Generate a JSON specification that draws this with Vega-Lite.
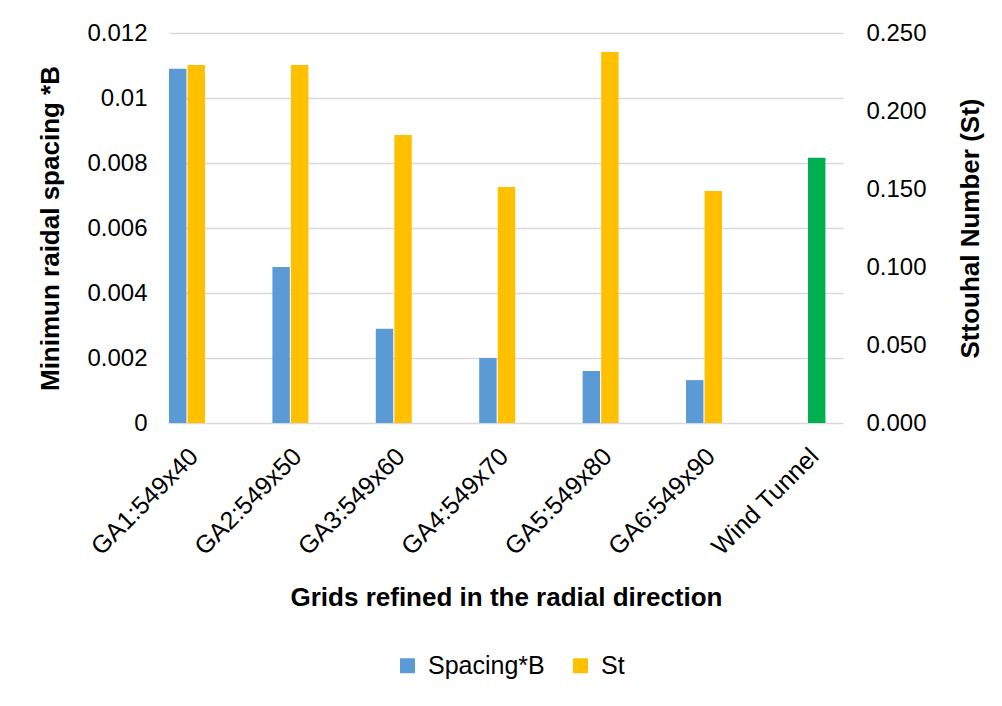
{
  "$schema": "https://vega.github.io/schema/vega-lite/v6.json",
  "width": 674,
  "height": 390,
  "autosize": {"type": "none"},
  "padding": {"left": 169, "top": 33, "right": 159, "bottom": 283},
  "background": "white",
  "config": {
    "view": {"stroke": null},
    "font": "Liberation Sans",
    "axis": {"labelFont": "Liberation Sans", "titleFont": "Liberation Sans", "labelColor": "#000000", "titleColor": "#000000"},
    "legend": {"labelFont": "Liberation Sans", "labelColor": "#000000"}
  },
  "data": {
    "values": [
      {"grid": "GA1:549x40", "series": "Spacing*B", "ck": "Spacing*B", "value": 0.0109},
      {"grid": "GA1:549x40", "series": "St", "ck": "St", "value": 0.2295},
      {"grid": "GA2:549x50", "series": "Spacing*B", "ck": "Spacing*B", "value": 0.0048},
      {"grid": "GA2:549x50", "series": "St", "ck": "St", "value": 0.2295},
      {"grid": "GA3:549x60", "series": "Spacing*B", "ck": "Spacing*B", "value": 0.0029},
      {"grid": "GA3:549x60", "series": "St", "ck": "St", "value": 0.1846},
      {"grid": "GA4:549x70", "series": "Spacing*B", "ck": "Spacing*B", "value": 0.002},
      {"grid": "GA4:549x70", "series": "St", "ck": "St", "value": 0.1513},
      {"grid": "GA5:549x80", "series": "Spacing*B", "ck": "Spacing*B", "value": 0.0016},
      {"grid": "GA5:549x80", "series": "St", "ck": "St", "value": 0.2378},
      {"grid": "GA6:549x90", "series": "Spacing*B", "ck": "Spacing*B", "value": 0.00132},
      {"grid": "GA6:549x90", "series": "St", "ck": "St", "value": 0.1487},
      {"grid": "Wind Tunnel", "series": "St", "ck": "Wind", "value": 0.17}
    ]
  },
  "encoding": {
    "x": {
      "field": "grid",
      "type": "nominal",
      "sort": ["GA1:549x40", "GA2:549x50", "GA3:549x60", "GA4:549x70", "GA5:549x80", "GA6:549x90", "Wind Tunnel"],
      "scale": {"paddingInner": 0.652, "paddingOuter": 0.085, "align": 0},
      "axis": {
        "title": "Grids refined in the radial direction",
        "titleFontSize": 26,
        "titleFontWeight": "bold",
        "titlePadding": 25,
        "labelFontSize": 25,
        "labelAngle": -45,
        "labelAlign": "right",
        "labelBaseline": "middle",
        "labelOffset": 7,
        "labelPadding": 29,
        "ticks": false,
        "domain": false,
        "grid": false
      }
    },
    "xOffset": {"field": "series", "type": "nominal", "scale": {"domain": ["Spacing*B", "St"], "paddingInner": 0.06}},
    "color": {
      "field": "ck",
      "type": "nominal",
      "scale": {"domain": ["Spacing*B", "St", "Wind"], "range": ["#5b9bd5", "#ffc000", "#00b050"]},
      "legend": {
        "values": ["Spacing*B", "St"],
        "title": null,
        "orient": "none",
        "legendX": 226,
        "legendY": 620,
        "padding": 0,
        "direction": "horizontal",
        "symbolType": "square",
        "symbolSize": 225,
        "symbolStrokeWidth": 0,
        "labelFontSize": 25,
        "labelOffset": 8,
        "columnPadding": 23
      }
    }
  },
  "layer": [
    {
      "transform": [{"filter": "datum.series === 'Spacing*B'"}],
      "mark": {"type": "bar"},
      "encoding": {
        "y": {
          "field": "value",
          "type": "quantitative",
          "scale": {"domain": [0, 0.012]},
          "axis": {
            "title": "Minimun raidal spacing *B",
            "titleFontSize": 26,
            "titleFontWeight": "bold",
            "titlePadding": 23,
            "labelFontSize": 24,
            "labelPadding": 22,
            "values": [0, 0.002, 0.004, 0.006, 0.008, 0.01, 0.012],
            "format": "~g",
            "ticks": false,
            "domain": false,
            "grid": true,
            "gridColor": "#d9d9d9",
            "gridWidth": 1.5
          }
        }
      }
    },
    {
      "transform": [{"filter": "datum.series === 'St'"}],
      "mark": {"type": "bar"},
      "encoding": {
        "y": {
          "field": "value",
          "type": "quantitative",
          "scale": {"domain": [0, 0.25]},
          "axis": {
            "orient": "right",
            "title": "Sttouhal Number (St)",
            "titleFontSize": 26,
            "titleFontWeight": "bold",
            "titleAngle": 270,
            "titlePadding": 57,
            "labelFontSize": 24,
            "labelPadding": 23,
            "values": [0, 0.05, 0.1, 0.15, 0.2, 0.25],
            "format": ".3f",
            "ticks": false,
            "domain": false,
            "grid": false
          }
        }
      }
    }
  ],
  "resolve": {"scale": {"y": "independent"}}
}
